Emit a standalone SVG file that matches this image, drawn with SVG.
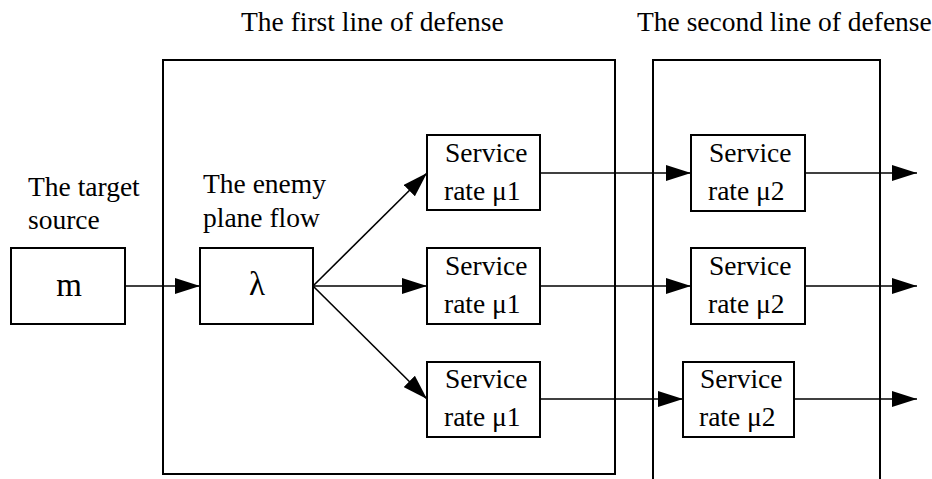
<svg xmlns="http://www.w3.org/2000/svg" width="932" height="479" viewBox="0 0 932 479">
<style>
.box{fill:#fff;stroke:#000;stroke-width:2}
.frame{fill:none;stroke:#000;stroke-width:2}
.t{font-family:"Liberation Serif","Times New Roman",serif;font-size:27.5px;fill:#000}
.big{font-size:33px}
.c{stroke:#000;stroke-width:1.6;fill:none;marker-end:url(#ah)}
</style>
<defs>
<marker id="ah" markerUnits="userSpaceOnUse" markerWidth="25" markerHeight="16" viewBox="0 0 25 16" refX="25" refY="8" orient="auto">
<path d="M0,0 L25,8 L0,16 z" fill="#000"/>
</marker>
</defs>
<g id="frames">
<rect id="first-line" class="frame" x="163" y="60" width="452" height="414"/>
<path id="second-line" class="frame" d="M653,479 V60 H880 V479"/>
<text class="t" x="241" y="31">The first line of defense</text>
<text class="t" x="637" y="31">The second line of defense</text>
</g>
<g id="connectors">
<line class="c" x1="125" y1="286" x2="200" y2="286"/>
<line class="c" x1="313" y1="286" x2="427" y2="173"/>
<line class="c" x1="313" y1="286" x2="427" y2="286"/>
<line class="c" x1="313" y1="286" x2="427" y2="399"/>
<line class="c" x1="540" y1="173" x2="691" y2="173"/>
<line class="c" x1="540" y1="286" x2="691" y2="286"/>
<line class="c" x1="540" y1="399" x2="683" y2="399"/>
<line class="c" x1="805" y1="173" x2="917" y2="173"/>
<line class="c" x1="805" y1="286" x2="917" y2="286"/>
<line class="c" x1="794" y1="399" x2="917" y2="399"/>
</g>
<g id="source">
<text class="t" x="28" y="196">The target</text>
<text class="t" x="28" y="229">source</text>
<rect class="box" x="11" y="248" width="114" height="76"/>
<text class="t big" x="69" y="296" text-anchor="middle">m</text>
</g>
<g id="flow">
<text class="t" x="203" y="193">The enemy</text>
<text class="t" x="203" y="227">plane flow</text>
<rect class="box" x="200" y="248" width="113" height="76"/>
<text class="t big" x="257" y="295" text-anchor="middle">λ</text>
</g>
<g id="s1a">
<rect class="box" x="427" y="135" width="113" height="75"/>
<text class="t" x="445" y="162">Service</text>
<text class="t" x="444" y="200">rate μ1</text>
</g>
<g id="s1b">
<rect class="box" x="427" y="248" width="113" height="76"/>
<text class="t" x="445" y="275">Service</text>
<text class="t" x="444" y="313">rate μ1</text>
</g>
<g id="s1c">
<rect class="box" x="427" y="362" width="113" height="75"/>
<text class="t" x="445" y="388">Service</text>
<text class="t" x="444" y="426">rate μ1</text>
</g>
<g id="s2a">
<rect class="box" x="691" y="135" width="114" height="76"/>
<text class="t" x="709" y="162">Service</text>
<text class="t" x="708" y="200">rate μ2</text>
</g>
<g id="s2b">
<rect class="box" x="691" y="248" width="114" height="76"/>
<text class="t" x="709" y="275">Service</text>
<text class="t" x="708" y="313">rate μ2</text>
</g>
<g id="s2c">
<rect class="box" x="683" y="362" width="111" height="75"/>
<text class="t" x="700" y="388">Service</text>
<text class="t" x="699" y="426">rate μ2</text>
</g>
</svg>
